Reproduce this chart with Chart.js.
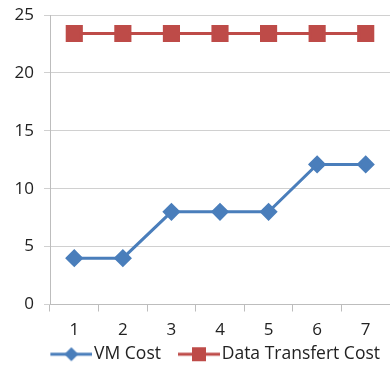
<!DOCTYPE html>
<html>
<head>
<meta charset="utf-8">
<script src="https://cdn.jsdelivr.net/npm/chart.js@4.4.0/dist/chart.umd.min.js"></script>
<style>
  html, body { margin: 0; padding: 0; background: #fff; }
  #wrap { width: 390px; height: 373px; position: relative; }
</style>
</head>
<body>
<div id="wrap"><canvas id="costChart"></canvas></div>
<script>
// Chart data
const categories = ['1', '2', '3', '4', '5', '6', '7'];
const vmCost = [4, 4, 8, 8, 8, 12.1, 12.1];
const dataTransferCost = [23.4, 23.4, 23.4, 23.4, 23.4, 23.4, 23.4];
const yTicks = [0, 5, 10, 15, 20, 25];

const BLUE = '#4a7ebb';
const RED = '#be4b48';

// legend swatch: a short line with the marker, drawn at the right end of
// a wider transparent canvas (so it sits close to the label text)
function legendSwatch(color, marker, totalWidth) {
    const c = document.createElement('canvas');
    c.width = totalWidth;
    c.height = 16;
    const g = c.getContext('2d');
    const x0 = totalWidth - 42;
    g.strokeStyle = color;
    g.lineWidth = 3;
    g.beginPath();
    g.moveTo(x0, 8);
    g.lineTo(totalWidth, 8);
    g.stroke();
    g.fillStyle = color;
    const cx = x0 + 21;
    if (marker === 'diamond') {
        g.beginPath();
        g.moveTo(cx, 1);
        g.lineTo(cx + 7, 8);
        g.lineTo(cx, 15);
        g.lineTo(cx - 7, 8);
        g.closePath();
        g.fill();
    } else {
        g.fillRect(cx - 7, 1, 14, 14);
    }
    return c;
}

const ctx = document.getElementById('costChart').getContext('2d');

new Chart(ctx, {
    type: 'line',
    data: {
        labels: categories,
        datasets: [
            {
                label: 'VM Cost',
                data: vmCost,
                borderColor: BLUE,
                backgroundColor: BLUE,
                borderWidth: 3,
                pointStyle: 'rectRot',
                pointRadius: 7,
                pointHoverRadius: 7,
                tension: 0
            },
            {
                label: 'Data Transfert Cost',
                data: dataTransferCost,
                borderColor: RED,
                backgroundColor: RED,
                borderWidth: 3,
                pointStyle: 'rect',
                pointRadius: 10,
                pointHoverRadius: 10,
                tension: 0
            }
        ]
    },
    options: {
        responsive: true,
        maintainAspectRatio: false,
        animation: false,
        layout: { autoPadding: false, padding: { top: 15, right: 0, left: 0, bottom: 0 } },
        plugins: {
            tooltip: { enabled: false },
            legend: {
                position: 'bottom',
                align: 'end',
                labels: {
                    color: '#222',
                    font: { family: 'Open Sans', size: 17.5, lineHeight: 1 },
                    usePointStyle: true,
                    pointStyleWidth: 42,
                    padding: 10,
                    generateLabels: (chart) => {
                        const items = Chart.defaults.plugins.legend.labels.generateLabels(chart);
                        items[0].pointStyle = legendSwatch(BLUE, 'diamond', 56);
                        items[1].pointStyle = legendSwatch(RED, 'square', 56);
                        return items;
                    }
                }
            }
        },
        scales: {
            x: {
                offset: true,
                afterFit: (axis) => { axis.height = 31; },
                grid: {
                    offset: true,
                    drawOnChartArea: false,
                    drawTicks: true,
                    tickLength: 7,
                    color: '#bdbdbd'
                },
                border: { color: '#bdbdbd', width: 1 },
                ticks: {
                    color: '#222',
                    font: { family: 'Open Sans', size: 17 },
                    padding: 8
                }
            },
            y: {
                min: 0,
                max: 25,
                afterBuildTicks: (axis) => { axis.ticks = yTicks.map(v => ({ value: v })); },
                afterFit: (axis) => {
                    axis.width = 50;
                    axis.paddingTop = 0;
                    axis.paddingBottom = 0;
                },
                grid: {
                    color: '#d0d0d0',
                    tickLength: 6
                },
                border: { color: '#bdbdbd', width: 1 },
                ticks: {
                    color: '#222',
                    font: { family: 'Open Sans', size: 17 },
                    padding: 10
                }
            }
        }
    }
});
</script>
</body>
</html>
